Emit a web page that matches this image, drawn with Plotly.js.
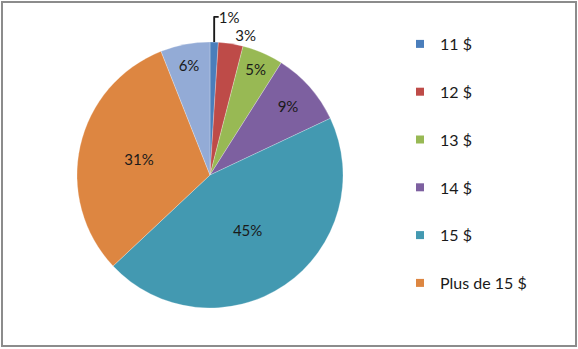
<!DOCTYPE html>
<html>
<head>
<meta charset="utf-8">
<script src="https://cdn.plot.ly/plotly-3.0.1.min.js"></script>
<style>
html,body{margin:0;padding:0;background:#fff;}
#frame{position:absolute;left:1px;top:1px;width:572px;height:342px;border:2px solid #8c8c8c;background:#fff;}
#chart{position:absolute;left:0;top:0;width:572px;height:342px;}
</style>
</head>
<body>
<div id="frame"><div id="chart"></div></div>
<script>
const labels = ["11 $", "12 $", "13 $", "14 $", "15 $", "Plus de 15 $", "Non précisé"];
const values = [1, 3, 5, 9, 45, 31, 6];
const colors = ["#4A7EBB", "#BE4B48", "#98B954", "#7D60A0", "#4399B1", "#DD8641", "#93ABD6"];
const legendLabels = ["11 $", "12 $", "13 $", "14 $", "15 $", "Plus de 15 $"];
const textPos = ["outside", "outside", "inside", "inside", "inside", "inside", "inside"];

const W = 572, H = 342;
const cx = 207, cy = 172, R = 133;
const FONT = "Lato, 'Open Sans', sans-serif";

const pie = {
  type: "pie",
  labels: labels,
  values: values,
  sort: false,
  direction: "clockwise",
  rotation: 0,
  showlegend: false,
  texttemplate: "%{value}%",
  textposition: textPos,
  insidetextorientation: "horizontal",
  textfont: {family: FONT, size: 15, color: "#1a1a1a"},
  insidetextfont: {family: FONT, size: 15, color: "#1a1a1a"},
  outsidetextfont: {family: FONT, size: 15, color: "#1a1a1a"},
  marker: {colors: colors, line: {color: "rgba(255,255,255,0.5)", width: 0.5}},
  hoverinfo: "none",
  domain: {x: [(cx - R) / W, (cx + R) / W], y: [1 - (cy + R) / H, 1 - (cy - R) / H]}
};

const legendTraces = legendLabels.map((name, i) => ({
  type: "scatter",
  mode: "markers",
  x: [null], y: [null],
  name: name,
  legendgroup: "g" + i,
  marker: {symbol: "square", size: 8, color: colors[i]},
  hoverinfo: "none"
}));

const layout = {
  width: W, height: H,
  margin: {l: 0, r: 0, t: 0, b: 0},
  paper_bgcolor: "#ffffff",
  plot_bgcolor: "#ffffff",
  xaxis: {visible: false, domain: [0.99, 1]},
  yaxis: {visible: false, domain: [0.99, 1]},
  showlegend: true,
  legend: {
    x: 397 / W, y: 1 - 24 / H, xanchor: "left", yanchor: "top",
    font: {family: FONT, size: 16, color: "#1a1a1a"},
    tracegroupgap: 24,
    itemwidth: 30,
    bgcolor: "rgba(0,0,0,0)"
  }
};

Plotly.newPlot("chart", [pie].concat(legendTraces), layout, {displayModeBar: false, staticPlot: true});
</script>
</body>
</html>
